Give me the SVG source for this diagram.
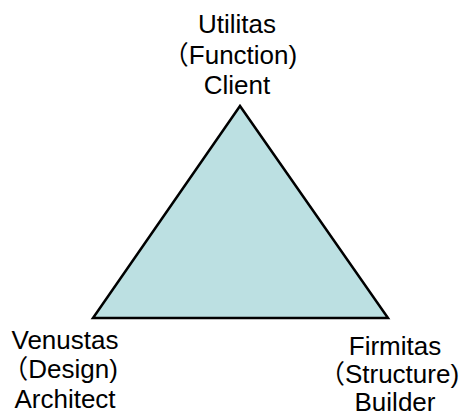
<svg xmlns="http://www.w3.org/2000/svg" width="460" height="416" viewBox="0 0 460 416">
  <style>
    .lbl { font-family: "Liberation Sans", "Noto Sans CJK SC", sans-serif; font-size: 26px; fill: #000; text-anchor: middle; }
    .tri { fill: #BCE0E2; stroke: #000; stroke-width: 2.5; stroke-linejoin: miter; }
  </style>
  <g id="triangle">
    <polygon class="tri" points="240,106 93,318 388,318"/>
  </g>
  <g id="utilitas">
    <text class="lbl" x="237" y="33">Utilitas</text>
    <text class="lbl" x="230" y="64">（Function)</text>
    <text class="lbl" x="237" y="94">Client</text>
  </g>
  <g id="venustas">
    <text class="lbl" x="65" y="349">Venustas</text>
    <text class="lbl" x="60" y="378">（Design)</text>
    <text class="lbl" x="65" y="408">Architect</text>
  </g>
  <g id="firmitas">
    <text class="lbl" x="395" y="355">Firmitas</text>
    <text class="lbl" x="389" y="383">（Structure)</text>
    <text class="lbl" x="395" y="411">Builder</text>
  </g>
</svg>
